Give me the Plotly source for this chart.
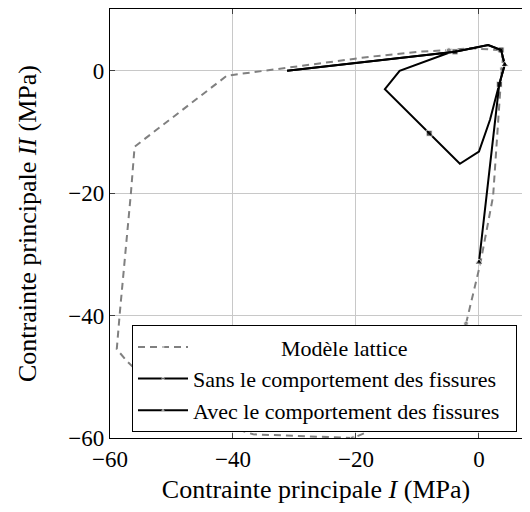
import plotly.graph_objects as go

# Modèle lattice
lat_x = [-2.1, 0.2, 2.3, 3.3, 3.7, 3.9, 3.1, -1.5, -4.9, -10.0, -17.7, -31.2, -41.0,
         -56.0, -56.6, -58.4, -58.9, -57.2, -52.0, -45.9, -36.7, -20.5, -12.5, -6.0, -2.1]
lat_y = [-41.3, -31.6, -20.5, -4.7, 0.3, 2.0, 3.4, 3.7, 3.4, 3.1, 2.3, 0.5, -0.8,
         -12.4, -20.0, -39.5, -45.5, -47.5, -52.5, -56.6, -59.4, -60.0, -56.6, -50.0, -41.3]
lat_marked = [0, 4, 8, 21]

# Sans le comportement des fissures
sans_x = [-31.2, -3.9, 1.5, 3.6, 4.2, 3.3, 1.8, 0.0, -3.1, -8.1, -15.3, -12.9, -5.0]
sans_y = [0.0, 3.1, 4.2, 3.4, 1.0, -2.2, -8.0, -13.2, -15.2, -10.2, -3.0, 0.0, 2.9]
sans_marked = [1, 3, 5, 9]

# Avec le comportement des fissures
avec_x = [-31.2, -3.9, 1.5, 3.6, 4.2, 3.3, 0.0]
avec_y = [0.0, 3.1, 4.2, 3.4, 1.0, -2.2, -31.3]
avec_marked = [4, 6]

x_ticks = [-60, -40, -20, 0]
y_ticks = [-60, -40, -20, 0]

def sizes(n, marked, s):
    return [s if i in marked else 0 for i in range(n)]

FONT = "Liberation Serif"
NB = "\u00a0"

fig = go.Figure()
fig.add_trace(go.Scatter(
    x=lat_x, y=lat_y, mode="lines+markers",
    name=NB * 16 + "Modèle lattice",
    line=dict(color="#808080", width=2, dash="7px,5px"),
    marker=dict(symbol="circle", color="#808080", size=sizes(len(lat_x), lat_marked, 5)),
))
fig.add_trace(go.Scatter(
    x=sans_x, y=sans_y, mode="lines+markers",
    name="Sans le comportement des fissures" + NB * 2,
    line=dict(color="black", width=2),
    marker=dict(symbol="square", color="black", size=sizes(len(sans_x), sans_marked, 6)),
))
fig.add_trace(go.Scatter(
    x=avec_x, y=avec_y, mode="lines+markers",
    name="Avec le comportement des fissures" + NB * 2,
    line=dict(color="black", width=2),
    marker=dict(symbol="triangle-up", color="black", size=sizes(len(avec_x), avec_marked, 7)),
))

axis_common = dict(
    showgrid=True, gridcolor="#c8c8c8", gridwidth=1,
    showline=True, linecolor="black", linewidth=1.2,
    ticks="inside", ticklen=5, tickcolor="#404040",
    zeroline=False, automargin=False,
    tickfont=dict(family=FONT, size=23, color="black"),
)

fig.update_layout(
    width=514, height=496,
    margin=dict(l=102, r=0, t=1, b=66),
    plot_bgcolor="white", paper_bgcolor="white",
    font=dict(family=FONT, size=22, color="black"),
    showlegend=True,
    legend=dict(
        x=0.0534, y=0.263, xanchor="left", yanchor="top",
        bgcolor="white", bordercolor="black", borderwidth=1,
        font=dict(family=FONT, size=22, color="black"),
        itemwidth=50, tracegroupgap=0,
    ),
    xaxis=dict(range=[-60, 7.0], tickvals=x_ticks, mirror="ticks",
               title=dict(text="Contrainte principale <i>I</i> (MPa)", font=dict(family=FONT, size=26), standoff=21),
               **axis_common),
    yaxis=dict(range=[-60, 10.1], tickvals=y_ticks, mirror=False,
               title=dict(text="Contrainte principale <i>II</i> (MPa)", font=dict(family=FONT, size=26), standoff=24),
               **axis_common),
)

fig.write_html("out.html")
